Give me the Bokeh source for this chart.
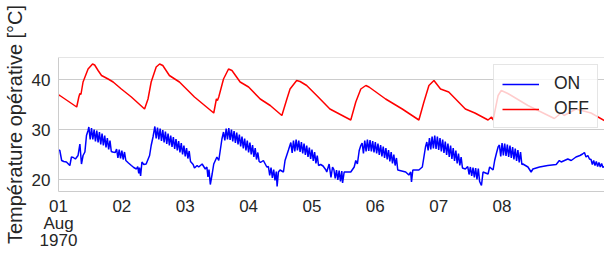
from bokeh.plotting import figure
from bokeh.models import FixedTicker, Span, Legend, LegendItem
from bokeh.embed import file_html
from bokeh.resources import INLINE

# ---- data (hours since 01 Aug 1970 00:00, operative temperature in °C) ----
on_hours = [
    0.0, 0.5, 1.2, 2.0, 3.0, 4.3, 4.9, 5.6, 6.4, 7.4,
    8.1, 8.7, 9.3, 10.0, 10.6, 11.2, 11.5, 12.0, 12.5, 13.0,
    13.5, 14.0, 14.5, 15.0, 15.5, 16.0, 16.5, 17.0, 17.5, 18.0,
    18.5, 19.0, 19.5, 20.0, 20.5, 21.5, 22.0, 22.5, 23.0, 23.5,
    24.0, 24.5, 25.0, 25.5, 26.5, 27.6, 28.5, 29.5, 30.0, 30.4,
    30.7, 31.1, 31.6, 32.3, 33.2, 34.5, 35.1, 35.8, 36.5, 37.0,
    37.5, 38.0, 38.5, 39.0, 39.5, 40.0, 40.5, 41.0, 41.5, 42.0,
    42.5, 43.0, 43.5, 44.0, 44.5, 45.0, 45.5, 46.0, 46.5, 47.0,
    47.5, 48.0, 48.5, 49.0, 49.5, 50.0, 51.0, 51.5, 52.5, 53.1,
    54.4, 55.6, 56.2, 56.6, 57.0, 57.5, 58.2, 58.8, 60.0, 60.7,
    61.9, 62.5, 63.0, 63.5, 64.0, 64.5, 65.0, 65.5, 66.0, 66.5,
    67.0, 67.5, 68.0, 68.5, 69.0, 69.5, 70.0, 70.5, 71.0, 71.5,
    72.0, 72.5, 73.0, 73.5, 74.0, 74.5, 75.0, 75.5, 76.0, 76.5,
    77.6, 78.9, 79.5, 80.0, 80.5, 81.0, 81.5, 82.0, 82.5, 82.8,
    83.3, 83.9, 85.2, 85.8, 87.1, 88.0, 88.5, 89.0, 89.5, 90.0,
    90.5, 91.0, 91.5, 92.0, 92.5, 93.0, 93.5, 94.0, 94.5, 95.0,
    95.5, 96.0, 96.5, 97.0, 97.5, 98.0, 98.5, 99.3, 100.2, 101.3,
    101.6, 102.5, 103.2, 103.8, 104.3, 104.8, 105.3, 105.8, 106.3, 106.8,
    107.3, 107.6, 108.2, 110.7, 112.0, 112.6, 113.2, 113.9, 114.5, 115.0,
    115.5, 116.0, 116.5, 117.0, 117.5, 118.0, 118.5, 119.0, 119.5, 120.0,
    120.5, 121.0, 121.5, 122.0, 122.5, 123.0, 123.5, 124.0, 124.5, 125.0,
    125.5, 126.0, 126.5, 127.0, 127.5, 128.0, 128.5, 130.0, 131.5, 132.7,
    133.4, 133.7, 134.2, 136.5, 137.8, 138.4, 139.0, 139.5, 140.0, 140.5,
    141.0, 141.5, 142.0, 142.5, 143.0, 143.5, 144.0, 144.5, 145.0, 145.5,
    146.0, 146.5, 147.0, 147.5, 148.0, 148.5, 149.0, 149.5, 150.0, 150.5,
    151.0, 151.5, 152.0, 152.5, 153.0, 154.1, 155.0, 155.5, 156.0, 156.5,
    157.0, 157.5, 158.0, 158.5, 159.0, 159.5, 160.2, 160.8, 162.7, 163.3,
    164.6, 165.2, 165.8, 166.5, 167.0, 167.5, 168.0, 168.5, 169.0, 169.5,
    170.0, 170.5, 171.0, 171.5, 172.0, 172.5, 173.0, 173.5, 174.0, 174.5,
    175.0, 175.5, 175.9, 177.8, 179.0, 179.7, 182.2, 185.3, 188.5, 189.7,
    190.4, 192.9, 194.2, 196.0, 197.5, 198.5, 199.2, 199.8, 200.5, 201.1,
    201.7, 202.2, 202.7, 203.2, 203.7, 204.2, 204.7, 205.2, 205.7, 206.2,
    206.7, 208.0,
]
on_temp = [
    25.9, 25.8, 23.8, 23.6, 23.5, 22.8, 24.5, 24.4, 24.1, 24.8,
    27.1, 23.1, 24.8, 25.5, 28.8, 29.8, 30.5, 28.0, 30.3, 28.0,
    30.0, 27.6, 29.8, 27.4, 29.5, 27.0, 29.2, 26.8, 28.8, 26.4,
    28.3, 26.0, 27.8, 25.6, 25.5, 25.4, 26.1, 24.3, 26.0, 24.2,
    25.8, 24.0, 25.5, 23.8, 23.3, 22.8, 22.4, 22.1, 22.6, 21.2,
    22.4, 20.7, 23.5, 23.0, 23.1, 24.8, 26.8, 28.5, 30.6, 28.2,
    30.4, 28.0, 30.2, 27.7, 29.9, 27.4, 29.6, 27.1, 29.2, 26.8,
    28.8, 26.5, 28.5, 26.1, 28.1, 25.8, 27.7, 25.4, 27.3, 25.0,
    26.8, 24.6, 26.3, 24.2, 25.7, 23.6, 23.0, 22.3, 22.8, 22.5,
    23.1, 22.1, 22.5, 20.5, 22.0, 19.0, 21.1, 23.1, 24.5, 23.8,
    28.1, 29.5, 27.8, 30.2, 28.0, 30.3, 27.9, 30.0, 27.6, 29.7,
    27.3, 29.4, 27.0, 29.0, 26.6, 28.6, 26.2, 28.2, 25.8, 27.8,
    25.4, 27.4, 25.0, 26.9, 24.5, 26.3, 24.0, 25.4, 23.6, 23.4,
    23.8, 22.5, 22.6, 20.8, 22.4, 20.3, 22.0, 19.8, 21.6, 18.6,
    21.5, 21.9, 21.5, 23.8, 25.9, 27.4, 25.3, 27.8, 25.6, 28.0,
    25.8, 27.8, 25.5, 27.5, 25.2, 27.2, 24.9, 26.8, 24.5, 26.4,
    24.1, 26.0, 23.7, 25.5, 23.2, 24.8, 22.8, 23.0, 22.7, 21.9,
    21.5, 23.1, 20.4, 22.5, 22.0, 20.2, 21.9, 19.9, 21.8, 19.6,
    21.7, 19.3, 21.5, 21.5, 22.5, 23.8, 23.1, 25.8, 26.8, 27.3,
    25.2, 27.8, 25.6, 28.0, 25.7, 27.9, 25.6, 27.7, 25.4, 27.5,
    25.2, 27.2, 24.9, 26.9, 24.6, 26.6, 24.3, 26.3, 24.0, 25.9,
    23.6, 25.5, 23.2, 25.0, 22.8, 24.3, 21.9, 21.7, 21.5, 20.9,
    21.5, 19.5, 21.9, 21.9, 22.5, 24.5, 26.5, 27.5, 25.8, 28.3,
    26.0, 28.6, 26.2, 28.8, 26.1, 28.6, 25.9, 28.3, 25.6, 28.0,
    25.3, 27.6, 24.9, 27.2, 24.5, 26.8, 24.1, 26.3, 23.7, 25.8,
    23.2, 25.2, 22.8, 24.5, 22.3, 22.1, 22.6, 21.0, 22.5, 20.7,
    22.4, 20.4, 22.3, 20.0, 22.2, 19.6, 18.8, 21.5, 21.1, 22.5,
    21.9, 23.8, 25.1, 26.5, 26.9, 24.6, 27.3, 24.8, 27.2, 24.7,
    27.0, 24.5, 26.8, 24.3, 26.5, 24.0, 26.2, 23.7, 25.9, 23.4,
    25.5, 23.0, 23.1, 22.5, 21.5, 22.1, 22.5, 22.8, 23.0, 23.8,
    23.5, 24.1, 23.8, 24.5, 24.8, 25.1, 25.4, 24.5, 24.8, 24.1,
    24.0, 23.0, 23.8, 22.8, 23.6, 22.6, 23.4, 22.5, 23.2, 22.4,
    22.6, 22.4,
]

off_hours = [
    0.0, 0.5, 6.9, 7.7, 8.1, 8.5, 9.3, 11.2, 12.9, 13.7,
    15.0, 16.3, 18.8, 20.7, 23.8, 27.6, 32.6, 33.9, 35.1, 37.0,
    38.3, 39.5, 42.0, 45.8, 51.5, 58.8, 59.8, 60.2, 60.7, 62.5,
    64.4, 65.7, 68.8, 72.0, 76.4, 80.2, 84.6, 86.5, 87.7, 90.2,
    91.5, 94.0, 97.8, 102.8, 110.7, 112.6, 114.5, 116.4, 117.6, 123.9,
    130.2, 136.5, 138.4, 140.3, 142.2, 144.7, 147.8, 150.4, 154.1, 157.7,
    162.7, 164.0, 164.6, 166.5, 167.7, 170.2, 177.8, 187.8, 190.4, 191.5,
    196.0, 201.7, 208.0,
]
off_temp = [
    36.9, 36.8, 34.5, 36.5, 37.2, 37.0, 39.5, 42.1, 43.1, 42.9,
    41.8, 40.8, 40.1, 39.5, 38.1, 36.5, 34.1, 36.1, 39.5, 42.5,
    43.1, 42.8, 40.8, 39.5, 36.5, 33.3, 36.1, 35.8, 36.5, 40.1,
    42.1, 41.8, 39.5, 38.5, 36.1, 34.8, 32.8, 36.1, 38.1, 39.8,
    39.6, 38.8, 36.8, 34.1, 31.9, 35.5, 38.1, 38.8, 38.5, 36.1,
    34.1, 31.9, 35.5, 38.8, 39.8, 38.1, 37.5, 36.1, 34.1, 33.3,
    31.9, 32.5, 31.9, 36.8, 37.8, 37.2, 34.8, 32.2, 33.3, 32.8,
    34.1, 33.3, 31.4,
]

x_tick_hours = [0, 24, 48, 72, 96, 120, 144, 168]
x_tick_labels = ["01\nAug\n1970", "02", "03", "04", "05", "06", "07", "08"]
y_ticks = [20, 30, 40]
series_names = ["ON", "OFF"]

FONT = "Liberation Sans"
TXT = "#262626"
EDGE = "#cccccc"
Y0, Y1 = 17.6, 44.4
X0, X1 = 0.0, 206.8

p = figure(width=604, height=259, output_backend="svg", toolbar_location=None,
           x_range=(X0, X1), y_range=(Y0, Y1),
           min_border_left=56, min_border_right=0, min_border_top=57, min_border_bottom=68)
p.outline_line_color = None
p.background_fill_color = "white"
p.border_fill_color = "white"

r_on = p.line(on_hours, on_temp, line_color="#0000ff", line_width=1.5)
r_off = p.line(off_hours, off_temp, line_color="#ff0000", line_width=1.5)

# x axis
xa = p.xaxis[0]
xa.ticker = FixedTicker(ticks=x_tick_hours)
xa.major_label_overrides = {h: lab for h, lab in zip(x_tick_hours, x_tick_labels)}
xa.major_tick_line_color = None
xa.minor_tick_line_color = None
xa.major_tick_out = 0
xa.major_tick_in = 0
xa.axis_line_color = EDGE
xa.major_label_text_font = FONT
xa.major_label_text_font_size = "17px"
xa.major_label_text_color = TXT
xa.major_label_text_line_height = 0.9
xa.major_label_standoff = 5

# y axis
ya = p.yaxis[0]
ya.ticker = FixedTicker(ticks=y_ticks)
ya.major_tick_line_color = None
ya.minor_tick_line_color = None
ya.major_tick_out = 0
ya.major_tick_in = 0
ya.axis_line_color = EDGE
ya.major_label_text_font = FONT
ya.major_label_text_font_size = "17px"
ya.major_label_text_color = TXT
ya.major_label_standoff = 8
ya.axis_label = "Température opérative [°C]"
ya.axis_label_text_font = FONT
ya.axis_label_text_font_size = "20px"
ya.axis_label_text_font_style = "normal"
ya.axis_label_text_color = TXT
ya.axis_label_standoff = 3

p.xgrid.visible = False
p.ygrid.grid_line_color = EDGE
p.ygrid.grid_line_width = 1

p.add_layout(Span(location=Y1, dimension="width", line_color=EDGE, line_width=1))

legend = Legend(items=[LegendItem(label=series_names[0], renderers=[r_on]),
                       LegendItem(label=series_names[1], renderers=[r_off])],
                location=(435, 63), orientation="vertical",
                glyph_width=37, glyph_height=20, label_height=20, label_standoff=15,
                padding=8, spacing=4, margin=0,
                border_line_color=EDGE, border_line_width=1,
                background_fill_color="white", background_fill_alpha=0.8,
                label_text_font=FONT, label_text_font_size="17.5px", label_text_color=TXT)
p.add_layout(legend)

open("out.html", "w").write(file_html(p, INLINE))
